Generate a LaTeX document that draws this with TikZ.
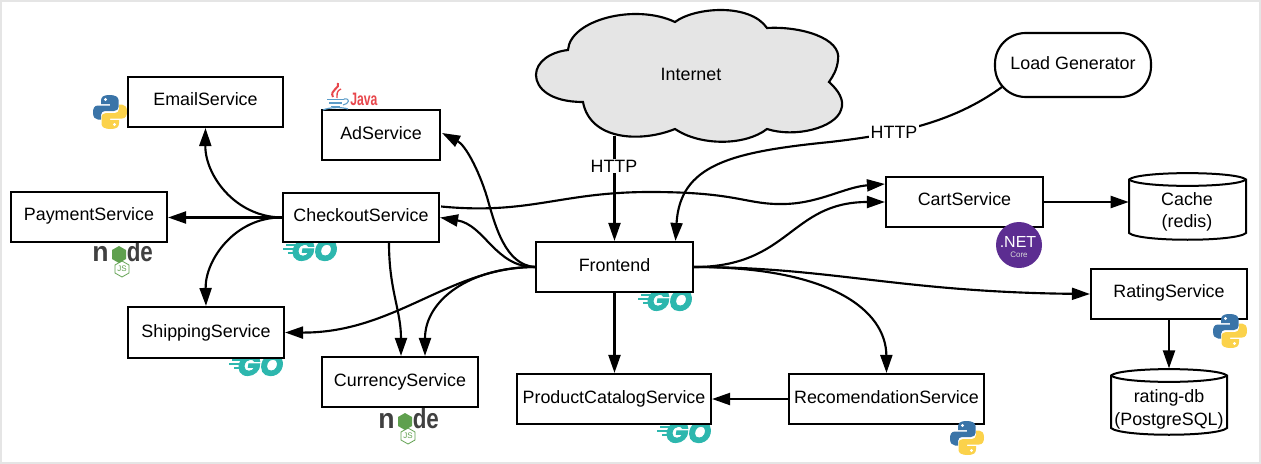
\documentclass[tikz,border=0pt]{standalone}
\usepackage{fontspec}
\setmainfont{Liberation Sans}
\newfontfamily\gofont[BoldItalicFeatures={FakeBold=3}]{Poppins}
\usetikzlibrary{arrows.meta,calc,shapes.geometric}
\definecolor{goteal}{HTML}{2DB7AE}
\definecolor{pyblue}{HTML}{3A74A8}
\definecolor{pyyellow}{HTML}{FBD24B}
\definecolor{nodegreen}{HTML}{5FA04E}
\definecolor{nodedark}{HTML}{404040}
\definecolor{javared}{HTML}{E8474C}
\definecolor{javablue}{HTML}{5C9CC8}
\definecolor{netpurple}{HTML}{5C2D91}
\tikzset{
  x=0.75pt,y=-0.75pt,
  every node/.style={font=\fontsize{13.4pt}{16pt}\selectfont,text=black},
  svc/.style={draw=black,line width=1.6pt,fill=white,rectangle,inner sep=0pt,align=center},
  dbtext/.style={rectangle,inner sep=0pt,align=center},
  conn/.style={line width=1.6pt,-{Triangle[length=13.5pt,width=9pt]},shorten >=0pt},
  lbl/.style={fill=white,inner sep=1pt},
}
\newcommand{\svcnode}[7][0]{% up-shift name x1 y1 x2 y2 text
  \node[svc,minimum width=#5*0.75pt-#3*0.75pt,minimum height=#6*0.75pt-#4*0.75pt] (#2) at ({(#3+#5)/2},{(#4+#6)/2}) {\raisebox{#1pt}[\height][\depth]{#7}};}
\newcommand{\dbshape}[4]{% x1 y1 x2 y2
  \draw[line width=1.5pt,fill=white]
    (#1,#2+6.5) -- (#1,#4-7) .. controls (#1+10,#4+2) and (#3-10,#4+2) .. (#3,#4-7)
    -- (#3,#2+6.5) .. controls (#3-10,#2-2) and (#1+10,#2-2) .. (#1,#2+6.5) -- cycle;
  \draw[line width=1.5pt] (#1,#2+6.5) .. controls (#1+10,#2+15) and (#3-10,#2+15) .. (#3,#2+6.5);}
\newcommand{\pylogo}[2]{% top-left
  \begin{scope}[shift={(#1,#2)}]
    \fill[pyblue] (17,0) .. controls (10,0) and (8,2) .. (8,6) -- (8,9) -- (17,9) -- (17,10.5) -- (5,10.5)
      .. controls (1,10.5) and (0,14) .. (0,17.5) .. controls (0,22) and (2,24.5) .. (5,24.5) -- (8,24.5) -- (8,20)
      .. controls (8,17.5) and (10,16) .. (12,16) -- (21,16) .. controls (24,16) and (25.5,14) .. (25.5,12)
      -- (25.5,5) .. controls (25.5,2) and (22,0) .. (17,0) -- cycle;
    \fill[pyyellow] (17,34) .. controls (24,34) and (26,32) .. (26,28) -- (26,25) -- (17,25) -- (17,23.5) -- (29,23.5)
      .. controls (33,23.5) and (34,20) .. (34,16.5) .. controls (34,12) and (32,9.5) .. (29,9.5) -- (26,9.5) -- (26,14)
      .. controls (26,16.5) and (24,18) .. (22,18) -- (13,18) .. controls (10,18) and (8.5,20) .. (8.5,22)
      -- (8.5,29) .. controls (8.5,32) and (12,34) .. (17,34) -- cycle;
    \fill[white] (12.5,4.5) circle[radius=1.6] (21.5,29.5) circle[radius=1.6];
  \end{scope}}
\newcommand{\golog}[2]{% top-left
  \begin{scope}[shift={(#1,#2)}]
    \draw[goteal,line width=0.8pt] (3,5) -- (14,5) (0,9) -- (14,9) (5,13) -- (14,13);
    \node[anchor=base east,inner sep=0pt,text=goteal,font=\gofont\bfseries\itshape\fontsize{22pt}{22pt}\selectfont] at (54.5,20.5) {GO};
  \end{scope}}
\newcommand{\nodelog}[2]{% top-left of the word
  \begin{scope}[shift={(#1,#2)}]
    \node[anchor=base west,inner sep=0pt,text=nodedark,font=\bfseries\fontsize{21pt}{21pt}\selectfont] at (-1,23) {\scalebox{.95}[1]{n}};
    \fill[nodegreen] (26,8) -- (33,12) -- (33,21) -- (26,25) -- (19,21) -- (19,12) -- cycle;
    \node[anchor=base west,inner sep=0pt,text=nodedark,font=\bfseries\fontsize{21pt}{21pt}\selectfont] at (33.5,23) {\scalebox{.8}[1]{de}};
    \draw[nodegreen,line width=0.6pt] (29,23) -- (36,27) -- (36,35) -- (29,39) -- (22,35) -- (22,27) -- cycle;
    \node[inner sep=0pt,text=nodegreen,font=\fontsize{6pt}{6pt}\selectfont] at (29,31) {JS};
  \end{scope}}
\begin{document}
\begin{tikzpicture}
\useasboundingbox (0,0) rectangle (1261,464);
\fill[white] (0,0) rectangle (1261,464);
\draw[color=black!10,line width=1.5pt] (1,1) rectangle (1260,463);

% cloud
\draw[line width=1.6pt,fill=black!10] (675,22)
  .. controls (695,7) and (750,3) .. (767,28)
  .. controls (800,26) and (842,38) .. (838,60)
  .. controls (837,70) and (833,76) .. (829,82)
  .. controls (838,90) and (845,100) .. (841,110)
  .. controls (835,128) and (795,138) .. (767,129)
  .. controls (745,146) and (700,146) .. (675,129)
  .. controls (640,143) and (590,140) .. (583,102)
  .. controls (550,102) and (536,88) .. (536,75)
  .. controls (536,62) and (550,52) .. (568,50)
  .. controls (570,20) and (635,3) .. (675,22) -- cycle;
\node[inner sep=0pt] (internet) at (691,74) {Internet};
\coordinate (cloudfoot) at (614.5,136);

% logos beneath the boxes
\pylogo{93}{95}
\golog{283}{240}
\golog{229}{355}
\golog{638}{290}
\golog{657}{422}
\nodelog{93}{238}
\nodelog{379}{405}

% boxes
\svcnode[2]{email}{128}{77}{283}{127}{EmailService}
\svcnode[1.5]{ad}{322}{110}{440}{160}{AdService}
\svcnode[0.7]{pay}{11}{192}{167}{242}{PaymentService}
\svcnode[1.5]{check}{283}{193}{439}{242}{CheckoutService}
\svcnode{ship}{128}{307}{284}{358}{ShippingService}
\svcnode{curr}{322}{357}{478}{407}{CurrencyService}
\svcnode[1.5]{front}{536}{242}{693}{292}{Frontend}
\svcnode{prod}{517}{374}{711}{424}{ProductCatalogService}
\svcnode[1.5]{rec}{789}{374}{984}{424}{RecomendationService}
\svcnode[2]{cart}{886}{177}{1043}{227}{CartService}
\svcnode[0.7]{rate}{1091}{269}{1247}{319}{RatingService}
\node[svc,rounded corners=23pt,minimum width=117pt,minimum height=48pt] (load) at (1073,65) {};
\node[inner sep=0pt] at (1073,63) {Load Generator};

\dbshape{1129}{173}{1246}{240}
\node[dbtext,minimum width=87.75pt,minimum height=50pt] (cache) at (1187.5,206.5) {};
\node[inner sep=0pt,align=center] at (1187,212) {Cache\\[1pt](redis)};
\dbshape{1111}{369}{1227}{435}
\node[dbtext,minimum width=87pt,minimum height=50pt] (db) at (1169,402) {};
\node[inner sep=0pt,align=center] at (1169,409.5) {rating-db\\[1pt](PostgreSQL)};

% logos above the boxes
\pylogo{1213}{314}
\pylogo{950}{421}
\fill[netpurple] (1019,245) circle[radius=23];
\node[inner sep=0pt,text=white,font=\fontsize{12pt}{12pt}\selectfont] at (1018,242) {.NET};
\node[inner sep=0pt,text=black!15,font=\fontsize{6pt}{6pt}\selectfont] at (1019,255) {Core};
% java
\draw[javared,line width=1.5pt] (338,83) .. controls (341,88) and (329,90) .. (333,97);
\draw[javared,line width=1pt] (341,89) .. controls (335,92) and (338,95) .. (337,98);
\draw[javablue,line width=1.1pt] (327,99.5) -- (344,99.5) (329,103) -- (342,103) (331,106.5) -- (340,106.5);
\draw[javablue,line width=0.8pt] (344,99) .. controls (351,98) and (349,104) .. (343,105);
\draw[javablue,line width=0.9pt] (323,110) .. controls (330,107) and (342,107) .. (348,109);
\node[anchor=base west,inner sep=0pt,text=javared,font=\bfseries\fontsize{13.5pt}{13.5pt}\selectfont] at (350,105) {\scalebox{.68}[1]{Java}};

% connectors
\draw[conn] (cloudfoot) -- (front.north);
\node[lbl] (http1) at (614,166) {HTTP};
\draw[conn] ($(load.west)+(8,22)$) .. controls (950,125) and (890,135) .. (830,142)
  .. controls (730,152) and (680,165) .. ($(front.north)+(61,0)$);
\node[lbl] (http2) at (894,132) {HTTP};
\draw[conn] (front.west) .. controls (505,265) and (495,225) .. (487,197)
  .. controls (478,168) and (465,145) .. ($(ad.east)+(1,-2)$);
\draw[conn] (front.west) .. controls (495,267) and (485,225) .. (check.east);
\draw[conn] (front.west) .. controls (450,267) and (395,333) .. (ship.east);
\draw[conn] (front.west) .. controls (470,267) and (425,300) .. ($(curr.north)+(25,0)$);
\draw[conn] (front.south) -- (front.south |- prod.north);
\draw[conn] (front.east) .. controls (830,267) and (886,310) .. (rec.north);
\draw[conn] (front.east) .. controls (830,267) and (900,292) .. (rate.west);
\draw[conn] (front.east) .. controls (790,267) and (790,202) .. (cart.west);
\draw[conn] ($(check.east)+(1,-11)$) .. controls (530,215) and (560,192) .. (650,192)
  .. controls (740,192) and (745,205) .. (785,204)
  .. controls (820,203) and (845,187) .. ($(cart.west)+(0,-18)$);
\draw[conn] (check.west) .. controls (235,217) and (205,175) .. (email.south);
\draw[conn] (check.west) -- (check.west -| pay.east);
\draw[conn] (check.west) .. controls (235,217) and (205,260) .. (ship.north);
\draw[conn] ($(check.south)+(28,0)$) .. controls (389,290) and (401,310) .. ($(curr.north)+(1,0)$);
\draw[conn] (rec.west) -- (prod.east);
\draw[conn] (cart.east) -- (cart.east -| cache.west);
\draw[conn] (rate.south) -- (rate.south |- db.north);
\end{tikzpicture}
\end{document}
